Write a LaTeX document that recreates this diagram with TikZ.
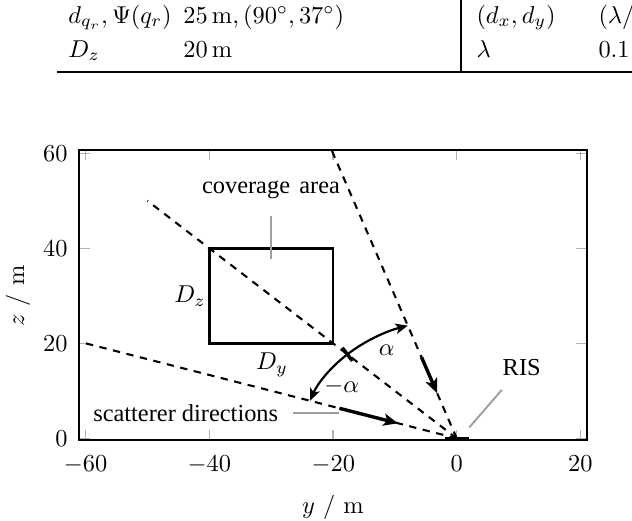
\documentclass[tikz,border=0pt]{standalone}
\usepackage{fontspec}
\newfontfamily\timesf{Liberation Serif}
\usetikzlibrary{arrows.meta,calc}
\begin{document}
\begin{tikzpicture}[x=0.41pt,y=0.41pt,
  tabtext/.style={inner sep=0pt, anchor=base west},
  ticklab/.style={inner sep=0pt},
  lbl/.style={inner sep=0pt, font=\timesf},
  axisbox/.style={line width=0.75pt},
  tickst/.style={draw=gray!60, line width=0.5pt},
  covbox/.style={line width=1.2pt},
  dline/.style={line width=0.85pt, dash pattern=on 3pt off 2.7pt},
  arcarr/.style={line width=0.9pt, -{Stealth[length=5pt,width=4.2pt,inset=1.2pt]}},
  bigarr/.style={line width=1.4pt, -{Stealth[length=6pt,width=5pt,inset=1.5pt]}},
  pinline/.style={draw=gray!75, line width=0.8pt}]
\useasboundingbox (0,0) rectangle (632,520);

% ---- table fragment at the top ----
\coordinate (rl) at (57,448);
\coordinate (rr) at (650,448);
\coordinate (vb) at (461,448);
\coordinate (vt) at (461,530);
\draw[line width=0.8pt] (rl) -- (rr);
\draw[line width=0.5pt] (vb) -- (vt);
\node[tabtext] (t11) at (68,497) {$d_{q_r}, \Psi(q_r)$};
\node[tabtext] (t12) at (183,497) {$25\,\mathrm{m}, (90^\circ, 37^\circ)$};
\node[tabtext] (t21) at (68,463) {$D_z$};
\node[tabtext] (t22) at (183,463) {$20\,\mathrm{m}$};
\node[tabtext] (t13) at (476,497) {$(d_x, d_y)$};
\node[tabtext] (t14) at (598,497) {$(\lambda/2, \lambda/2)$};
\node[tabtext] (t23) at (476,463) {$\lambda$};
\node[tabtext] (t24) at (598,463) {$0.1\,\mathrm{m}$};

% ---- plot ----
\begin{scope}[shift={(187.25pt,33.50pt)}, x=2.536pt, y=1.9475pt]
  % ticks
  \foreach \t in {-60,-40,-20,0,20}{
    \draw[tickst] (\t,-0.4) -- ++(0,4.25pt);
    \draw[tickst] (\t,60.7) -- ++(0,-4.25pt);
  }
  \foreach \t in {0,20,40,60}{
    \draw[tickst] (-61,\t) -- ++(4.25pt,0);
    \draw[tickst] (21,\t) -- ++(-4.25pt,0);
  }
  \draw[axisbox] (-61,-0.4) rectangle (21,60.7);

  % coverage area
  \draw[covbox] (-40,20) rectangle (-20,40);

  % dashed directions
  \coordinate (O) at (0,0);
  \coordinate (A) at (-20.17,60.5);
  \coordinate (B) at (-50,50);
  \coordinate (C) at (-61,20.33);
  \draw[dline] (O) -- (A);
  \draw[dline] (O) -- (B);
  \draw[dline] (O) -- (C);

  % angle arcs
  \coordinate (tk) at (-17.678,17.678);
  \draw[arcarr] (tk) arc[start angle=135, end angle=108.43, radius=25];
  \draw[arcarr] (tk) arc[start angle=135, end angle=161.57, radius=25];
  \draw[line width=1.4pt] ($(tk)+(-2.07pt,2.70pt)$) -- ($(tk)+(2.07pt,-2.70pt)$);

  % thick arrows along scatterer directions
  \coordinate (a1s) at (-5.69,17.08);
  \coordinate (a1e) at (-3.16,9.49);
  \coordinate (a2s) at (-18.97,6.32);
  \coordinate (a2e) at (-9.49,3.16);
  \draw[bigarr] (a1s) -- (a1e);
  \draw[bigarr] (a2s) -- (a2e);

  % RIS
  \coordinate (risl) at (-1.9,0);
  \coordinate (risr) at (2.0,0);
  \draw[line width=1.4pt] (risl) -- (risr);

  % pin lines
  \coordinate (p1a) at (-30,37.7);
  \coordinate (p1b) at (-30,46.9);
  \coordinate (p2a) at (-19.1,5.3);
  \coordinate (p2b) at (-26.4,5.3);
  \coordinate (p3a) at (2.04,2.3);
  \coordinate (p3b) at (7.3,10.2);
  \draw[pinline] (p1a) -- (p1b);
  \draw[pinline] (p2a) -- (p2b);
  \draw[pinline] (p3a) -- (p3b);
\end{scope}

% labels in the plot
\node[lbl] (cov) at (271,330) {coverage\hspace{3.8pt}area};
\node[lbl] (sca) at (185.7,107) {scatterer directions};
\node[lbl] (ris) at (521.7,152) {RIS};
\node[inner sep=0pt] (dz) at (190,224) {$D_z$};
\node[inner sep=0pt] (dy) at (272,155) {$D_y$};
\node[inner sep=0pt] (al) at (386.7,170) {$\alpha$};
\node[inner sep=0pt] (mal) at (341.7,134) {$-\alpha$};

% tick labels
\node[ticklab, anchor=base] (xl1) at (85.6,48.2) {$-60$};
\node[ticklab, anchor=base] (xl2) at (209.3,48.2) {$-40$};
\node[ticklab, anchor=base] (xl3) at (333.3,48.2) {$-20$};
\node[ticklab, anchor=base] (xl4) at (456.7,48.2) {$0$};
\node[ticklab, anchor=base] (xl5) at (580.4,48.2) {$20$};
\node[ticklab, anchor=east] (yl1) at (68,81.7) {$0$};
\node[ticklab, anchor=east] (yl2) at (68,176.7) {$20$};
\node[ticklab, anchor=east] (yl3) at (68,271.7) {$40$};
\node[ticklab, anchor=east] (yl4) at (68,366.7) {$60$};

% axis labels
\node[inner sep=0pt] (xlab) at (333,13) {$y$ / m};
\node[inner sep=0pt, rotate=90] (zlab) at (18,224) {$z$ / m};
\end{tikzpicture}
\end{document}
